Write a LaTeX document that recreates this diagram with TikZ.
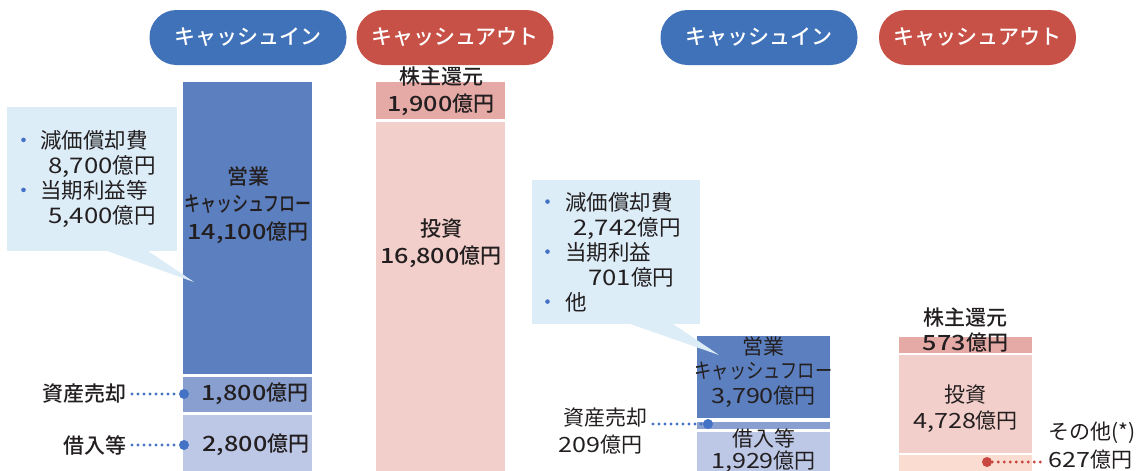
\documentclass[tikz,border=0pt]{standalone}
\usepackage{fontspec}
\setmainfont{Noto Sans CJK JP}[BoldFont={Noto Sans CJK JP Medium}]
\newfontfamily\numfont[FakeStretch=1.2,BoldFont={Noto Sans CJK JP Medium}]{Noto Sans CJK JP}
\usetikzlibrary{positioning}

\definecolor{pillblue}{HTML}{3F72B8}
\definecolor{pillred}{HTML}{C75146}
\definecolor{opblue}{HTML}{5C7FBF}
\definecolor{saleblue}{HTML}{889FD0}
\definecolor{loanblue}{HTML}{BDC8E7}
\definecolor{returnpink}{HTML}{E6AAA6}
\definecolor{investpink}{HTML}{F2CFCA}
\definecolor{otherpeach}{HTML}{FADDD0}
\definecolor{notefill}{HTML}{DCEDF8}
\definecolor{dotblue}{HTML}{4472C4}
\definecolor{dotred}{HTML}{C9473F}
\definecolor{ink}{HTML}{231F20}

\newcommand{\bul}[1]{\makebox[#1][l]{\raisebox{6.5pt}{\tikz\fill[dotblue] (0,0) circle (2.3pt);}}}
\newcommand{\narrow}[2]{\scalebox{#1}[1]{#2}}
\newcommand{\nm}[1]{{\numfont #1}}

\begin{document}
\begin{tikzpicture}[x=1pt,y=-1pt,
  pill/.style={rectangle,rounded corners=27pt,minimum width=197pt,minimum height=55pt,text=white,font=\bfseries\fontsize{21}{24}\selectfont},
  bar/.style={rectangle,inner sep=0pt,minimum width=129pt},
  lbl/.style={inner sep=0pt,text=ink,align=center,font=\bfseries\fontsize{21}{27}\selectfont},
  plain lbl/.style={lbl,font=\fontsize{21}{25}\selectfont},
  note/.style={rectangle,fill=notefill,anchor=north west,minimum height=144pt,text=ink,align=left,font=\fontsize{21.5}{25}\selectfont},
  dot/.style={circle,inner sep=0pt,minimum size=10pt},
  dotline/.style={line width=3.2pt,line cap=round,dash pattern=on 0pt off 6pt}]

\useasboundingbox (0,0) rectangle (1143,471);

% left: plan
\node[pill,fill=pillblue] (inL) at (248,37.5) {キャッシュイン};
\node[pill,fill=pillred] (outL) at (455,37.5) {キャッシュアウト};

\node[bar,fill=opblue,minimum height=292pt] (opL) at (247.5,228) {};
\node[bar,fill=saleblue,minimum height=35pt] (saleL) at (247.5,394.5) {};
\node[bar,fill=loanblue,minimum height=60pt] (loanL) at (247.5,445) {};
\node[bar,fill=returnpink,minimum height=37pt] (returnL) at (440.5,100.5) {};
\node[bar,fill=investpink,minimum height=353pt] (investL) at (440.5,298.5) {};

\node[note,inner xsep=14pt,text width=142pt] (noteL) at (7,107)
  {\bul{19pt}減価償却費\\ \hspace*{27pt}\nm{8,700}億円\\ \bul{19pt}当期利益等\\ \hspace*{27pt}\nm{5,400}億円};
\coordinate (tipL) at (194,282);
\fill[notefill] ([xshift=100pt,yshift=0.5pt]noteL.south west) -- (tipL) -- ([xshift=141pt,yshift=0.5pt]noteL.south west) -- cycle;

\node[lbl,font=\bfseries\fontsize{21}{27.5}\selectfont] (opLtxt) at (248,205) {営業\\\narrow{0.76}{キャッシュフロー}\\\nm{14,100}億円};
\node[lbl] (saleLval) at (255,394) {\nm{1,800}億円};
\node[lbl] (loanLval) at (256,445) {\nm{2,800}億円};
\node[lbl] (returnLtxt) at (441,91.5) {株主還元\\\nm{1,900}億円};
\node[lbl] (investLtxt) at (441,243.5) {投資\\\nm{16,800}億円};

\node[dot,fill=dotblue] (saleLdot) at (184,394) {};
\node[dot,fill=dotblue] (loanLdot) at (184,445) {};
\node[lbl,anchor=east] (saleLlbl) at (127,394) {資産売却};
\node[lbl,anchor=east] (loanLlbl) at (127,445) {借入等};
\draw[dotline,dotblue,shorten <=5pt] (saleLlbl) -- (saleLdot);
\draw[dotline,dotblue,shorten <=5pt] (loanLlbl) -- (loanLdot);

% right: result
\node[pill,fill=pillblue] (inR) at (759,37.5) {キャッシュイン};
\node[pill,fill=pillred] (outR) at (977.5,37.5) {キャッシュアウト};

\node[bar,fill=opblue,minimum width=133pt,minimum height=82pt] (opR) at (763.5,377) {};
\node[bar,fill=saleblue,minimum width=133pt,minimum height=7pt] (saleR) at (763.5,425.5) {};
\node[bar,fill=loanblue,minimum width=133pt,minimum height=43pt] (loanR) at (763.5,453.5) {};
\node[bar,fill=returnpink,minimum width=133pt,minimum height=16pt] (returnR) at (965.5,345) {};
\node[bar,fill=investpink,minimum width=133pt,minimum height=98pt] (investR) at (965.5,404) {};
\node[bar,fill=otherpeach,minimum width=133pt,minimum height=20pt] (otherR) at (965.5,465) {};

\node[note,inner xsep=13pt,text width=142pt] (noteR) at (532,180)
  {\bul{20pt}減価償却費\\ \hspace*{28pt}\nm{2,742}億円\\ \bul{20pt}当期利益\\ \hspace*{43pt}\nm{701}億円\\ \bul{20pt}他};
\coordinate (tipR) at (719,355);
\fill[notefill] ([xshift=98pt,yshift=0.5pt]noteR.south west) -- (tipR) -- ([xshift=141pt,yshift=0.5pt]noteR.south west) -- cycle;

\node[plain lbl,font=\fontsize{21}{24.5}\selectfont] (opRtxt) at (763.5,372) {営業\\\narrow{0.82}{キャッシュフロー}\\\nm{3,790}億円};
\node[plain lbl,font=\fontsize{21}{22}\selectfont] (loanRtxt) at (763.5,451) {借入等\\\nm{1,929}億円};
\node[lbl,font=\bfseries\fontsize{21}{25}\selectfont] (returnRtxt) at (965.5,330.5) {株主還元\\\nm{573}億円};
\node[plain lbl,font=\fontsize{21}{26}\selectfont] (investRtxt) at (965.5,409) {投資\\\nm{4,728}億円};

\node[dot,fill=dotblue] (saleRdot) at (708,424) {};
\node[plain lbl,anchor=east] (saleRlbl) at (648,418) {資産売却};
\node[plain lbl,anchor=west] (saleRval) at (558,445) {\nm{209}億円};
\draw[dotline,dotblue,shorten <=5pt] (saleRlbl.east |- saleRdot) -- (saleRdot);

\node[dot,fill=dotred] (otherRdot) at (987,462) {};
\node[plain lbl,anchor=west] (otherRlbl) at (1048,433) {その他(*)};
\node[plain lbl,anchor=west] (otherRval) at (1048,460) {\nm{627}億円};
\draw[dotline,dotred,shorten >=5pt] (otherRdot) -- (otherRval.west |- otherRdot);

\end{tikzpicture}
\end{document}
